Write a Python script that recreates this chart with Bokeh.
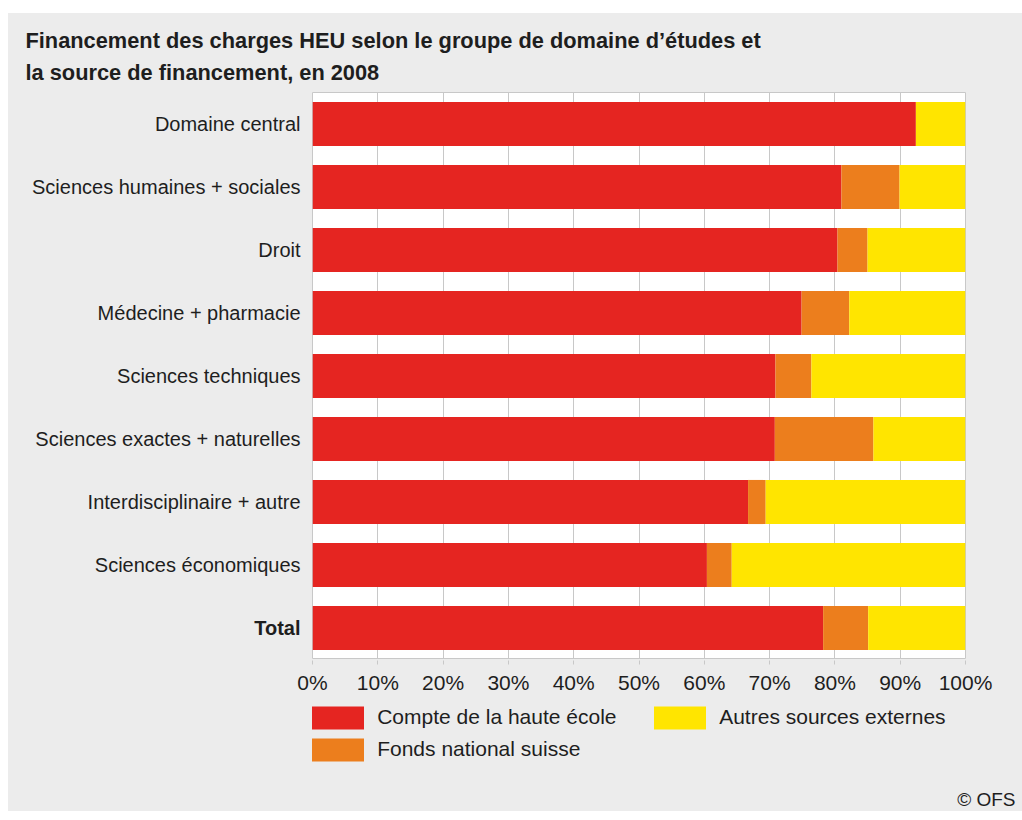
from bokeh.plotting import figure
from bokeh.models import (ColumnDataSource, FactorRange, Range1d, FixedTicker,
                          Legend, LegendItem, Spacer, Grid)
from bokeh.layouts import column, row
from bokeh.core.properties import value, field
from bokeh.embed import file_html
from bokeh.resources import INLINE

# ---------------- data ----------------
categories = [
    "Domaine central",
    "Sciences humaines + sociales",
    "Droit",
    "Médecine + pharmacie",
    "Sciences techniques",
    "Sciences exactes + naturelles",
    "Interdisciplinaire + autre",
    "Sciences économiques",
    "Total",
]
compte = [92.4, 81.0, 80.4, 74.9, 70.9, 70.8, 66.7, 60.4, 78.2]
fonds = [0.0, 8.9, 4.6, 7.3, 5.5, 15.1, 2.7, 3.8, 6.9]
autres = [7.6, 10.1, 15.0, 17.8, 23.6, 14.1, 30.6, 35.8, 14.9]

series_names = ["Compte de la haute école", "Fonds national suisse", "Autres sources externes"]
tick_values = [0, 10, 20, 30, 40, 50, 60, 70, 80, 90, 100]
tick_labels = ["0%", "10%", "20%", "30%", "40%", "50%", "60%", "70%", "80%", "90%", "100%"]

title_lines = ["Financement des charges HEU selon le groupe de domaine d’études et",
               "la source de financement, en 2008"]
source_note = "© OFS"

# ---------------- styles ----------------
FONT = "Liberation Sans"
colors = ["#e52521", "#ec7e1d", "#ffe500"]
BG = "#ececec"
GRID = "#c8c8c8"
TXT = "#1e1e1e"
W = 1014
FRAME_L, FRAME_R = 304, 57       # left / right space around the plot area
TITLE_H, MID_H, AXIS_H, LEG_H = 79, 567, 40, 112

source = ColumnDataSource(dict(
    cat=categories,
    compte=compte,
    fonds=fonds,
    autres=autres,
    style=["bold" if c == "Total" else "normal" for c in categories],
))

y_range = FactorRange(factors=list(reversed(categories)))
x_range = Range1d(0, 100)


def blank(width, height, xr, yr, r=0, align=False):
    f = figure(width=width, height=height, x_range=xr, y_range=yr,
               x_axis_location=None, y_axis_location=None,
               output_backend="svg", toolbar_location=None,
               min_border_left=0, min_border_right=r,
               min_border_top=0, min_border_bottom=0)
    if not align:
        f.frame_align = False
    f.grid.visible = False
    f.outline_line_color = None
    f.background_fill_color = BG
    f.border_fill_color = BG
    return f


# ---- title ----
title_fig = blank(W, TITLE_H, Range1d(0, W), Range1d(TITLE_H, 0))
title_fig.text(x=17, y=[27, 58.7], text=title_lines, text_font=value(FONT),
               text_font_size="21.8px", text_font_style="bold", text_color=TXT,
               text_align="left", text_baseline="middle")

# ---- category labels ----
label_fig = blank(FRAME_L, MID_H, Range1d(0, FRAME_L), y_range)
label_fig.text(x=FRAME_L - 12, y="cat", text="cat", source=source,
               text_font=value(FONT), text_font_size="20px",
               text_font_style=field("style"), text_color=TXT,
               text_align="right", text_baseline="middle")

# ---- bars ----
main_fig = blank(W - FRAME_L, MID_H, x_range, y_range, r=FRAME_R, align=True)
main_fig.background_fill_color = "white"
main_fig.outline_line_color = GRID
main_fig.add_layout(Grid(dimension=0, ticker=FixedTicker(ticks=tick_values),
                         grid_line_color=GRID, grid_line_width=1))
renderers = main_fig.hbar_stack(["compte", "fonds", "autres"], y="cat", height=0.7,
                                fill_color=colors, line_color=None, source=source)

# ---- x axis ----
axis_fig = figure(width=W, height=AXIS_H, x_range=x_range, y_range=Range1d(0, 1),
                  y_axis_location=None, output_backend="svg", toolbar_location=None,
                  min_border_left=FRAME_L, min_border_right=FRAME_R,
                  min_border_top=0, min_border_bottom=AXIS_H - 1)
axis_fig.grid.visible = False
axis_fig.outline_line_color = None
axis_fig.background_fill_color = BG
axis_fig.border_fill_color = BG
ax = axis_fig.xaxis[0]
ax.ticker = FixedTicker(ticks=tick_values)
ax.major_label_overrides = {v: l for v, l in zip(tick_values, tick_labels)}
ax.axis_line_color = None
ax.major_tick_line_color = GRID
ax.major_tick_in = 0
ax.major_tick_out = 4
ax.minor_tick_line_color = None
ax.major_label_standoff = 6
ax.major_label_text_font = FONT
ax.major_label_text_font_size = "21px"
ax.major_label_text_color = TXT

# ---- legend + source ----
leg_fig = blank(W, LEG_H, Range1d(0, W), Range1d(LEG_H, 0))
leg_rs = [leg_fig.hbar(y=0, left=0, right=col, height=1, fill_color=c, line_color=None,
                       source=source, visible=False)
          for col, c in zip(["compte", "fonds", "autres"], colors)]
legend = Legend(
    items=[LegendItem(label=series_names[0], renderers=[leg_rs[0]]),
           LegendItem(label=series_names[1], renderers=[leg_rs[1]]),
           LegendItem(label=series_names[2], renderers=[leg_rs[2]])],
    ncols=2,
    location=(297.2, 47.4),
    glyph_width=65, glyph_height=29, label_standoff=7, spacing=3,
    label_width=267, label_height=23,
    padding=0, margin=0,
    inactive_fill_alpha=0,
    border_line_color=None, background_fill_alpha=0,
    label_text_font=FONT, label_text_font_size="21px", label_text_color=TXT,
)
leg_fig.add_layout(legend)
leg_fig.text(x=W - 7, y=100, text=[source_note], text_font=value(FONT),
             text_font_size="19px", text_color=TXT,
             text_align="right", text_baseline="middle")

body = column(title_fig, row(label_fig, main_fig, styles={"background-color": BG}),
              axis_fig, leg_fig, styles={"background-color": BG})
layout = column(Spacer(height=13, width=W + 8), row(Spacer(width=8, height=10), body))
open("out.html", "w").write(file_html(layout, INLINE))
